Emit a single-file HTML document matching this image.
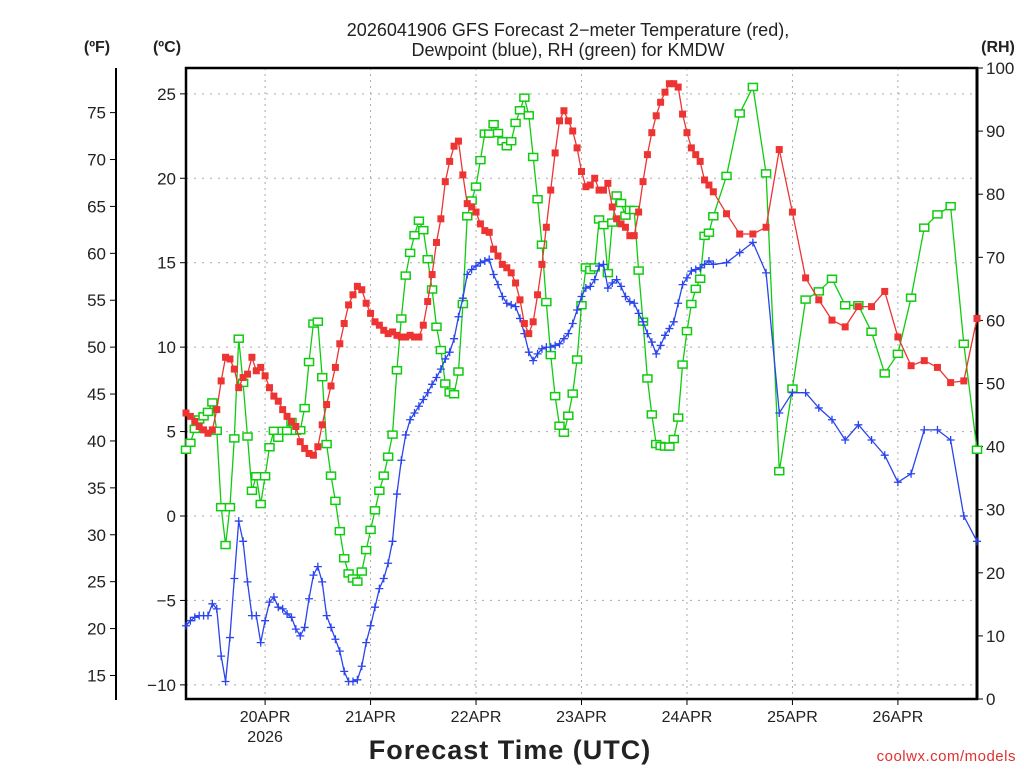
<!DOCTYPE html>
<html><head><meta charset="utf-8">
<style>
body{margin:0;background:#fff;width:1024px;height:768px;overflow:hidden}
svg text{font-family:"Liberation Sans","DejaVu Sans",sans-serif;fill:#222}
</style></head><body>
<svg id="chart" width="1024" height="768" viewBox="0 0 1024 768" xmlns="http://www.w3.org/2000/svg">
<g id="grid"></g>
<g id="axes"></g>
<g id="series"></g>
<text x="568" y="36" text-anchor="middle" font-size="18">2026041906 GFS Forecast 2−meter Temperature (red),</text>
<text x="568" y="56" text-anchor="middle" font-size="18">Dewpoint (blue), RH (green) for KMDW</text>
<text x="97" y="52" text-anchor="middle" font-size="16" font-weight="bold">(ºF)</text>
<text x="167" y="52" text-anchor="middle" font-size="16" font-weight="bold">(ºC)</text>
<text x="998" y="52" text-anchor="middle" font-size="16" font-weight="bold">(RH)</text>
<text x="510" y="759" text-anchor="middle" font-size="27" font-weight="bold" letter-spacing="1">Forecast Time (UTC)</text>
<text x="1016" y="761" text-anchor="end" font-size="15" style="fill:#e03030" letter-spacing="0.5">coolwx.com/models</text>
</svg>
<script>
const hoursHourly=[0,1,2,3,4,5,6,7,8,9,10,11,12,13,14,15,16,17,18,19,20,21,22,23,24,25,26,27,28,29,30,31,32,33,34,35,36,37,38,39,40,41,42,43,44,45,46,47,48,49,50,51,52,53,54,55,56,57,58,59,60,61,62,63,64,65,66,67,68,69,70,71,72,73,74,75,76,77,78,79,80,81,82,83,84,85,86,87,88,89,90,91,92,93,94,95,96,97,98,99,100,101,102,103,104,105,106,107,108,109,110,111,112,113,114,115,116,117,118,119];
const hours3h=[120,123,126,129,132,135,138,141,144,147,150,153,156,159,162,165,168,171,174,177,180];
const tempHourly=[6.1,5.9,5.6,5.3,5.1,4.9,5.1,6.3,8.0,9.4,9.3,8.7,7.6,8.2,8.4,9.4,8.6,8.8,8.3,7.6,7.1,6.8,6.3,5.9,5.6,5.3,4.4,4.0,3.7,3.6,4.1,5.4,6.6,7.7,8.8,10.2,11.4,12.5,13.1,13.6,13.4,12.6,12.0,11.5,11.3,11.0,10.8,10.9,10.7,10.6,10.6,10.7,10.6,10.6,11.3,12.7,14.3,16.2,17.6,19.8,
21.0,21.9,22.2,20.2,18.5,18.3,18.0,17.3,16.9,16.8,15.8,15.4,14.9,14.7,14.4,13.8,12.8,11.4,10.8,11.5,13.1,14.9,17.1,19.3,21.5,23.4,24.0,23.4,22.8,21.8,20.4,19.5,19.6,20.0,19.3,19.3,19.7,18.3,17.6,17.3,17.1,16.6,16.6,18.0,19.8,21.4,22.7,23.7,24.5,25.1,25.6,25.6,25.4,23.8,22.7,21.8,21.4,21.0,19.9,19.6];
const temp3h=[19.2,17.9,16.7,16.7,17.1,21.7,18.0,14.1,12.8,11.6,11.2,12.4,12.4,13.3,10.6,8.9,9.2,8.8,7.9,8.0,11.7];
const dewHourly=[-6.5,-6.2,-6.0,-5.9,-5.9,-5.9,-5.2,-5.5,-8.3,-9.8,-7.2,-3.7,-0.3,-1.5,-3.9,-5.9,-5.9,-7.5,-6.2,-5.1,-4.8,-5.4,-5.5,-5.8,-6.0,-6.7,-7.1,-6.6,-4.9,-3.5,-3.0,-3.9,-5.9,-6.6,-7.3,-8.0,-9.2,-9.8,-9.8,-9.7,-8.9,-7.5,-6.5,-5.4,-4.3,-3.7,-2.8,-1.5,1.3,3.3,4.8,5.7,6.1,6.5,6.9,7.3,7.8,8.2,8.7,9.3,
9.7,10.5,11.8,12.9,14.3,14.6,14.8,15.0,15.1,15.2,14.3,13.7,13.0,12.6,12.5,12.4,11.7,10.8,9.7,9.2,9.6,9.9,10.0,10.0,10.1,10.2,10.5,10.8,11.4,12.2,13.0,13.5,13.6,14.0,14.8,14.9,13.5,13.8,14.0,13.6,13.0,12.7,12.6,12.0,11.5,10.8,10.3,9.6,10.1,10.7,11.1,11.5,12.6,13.7,14.1,14.5,14.6,14.7,14.9,15.1];
const dew3h=[14.9,15.0,15.6,16.2,14.4,6.1,7.3,7.3,6.4,5.7,4.5,5.4,4.5,3.6,2.0,2.5,5.1,5.1,4.5,0.0,-1.5];
const rhHourly=[39.5,40.6,42.8,44.3,44.8,45.5,47.0,42.5,30.4,24.4,30.4,41.3,57.1,50.1,41.6,33.0,35.3,30.9,35.3,39.9,42.5,41.4,42.5,42.5,43.9,42.5,42.6,46.1,53.4,59.5,59.8,51.0,40.4,35.4,31.4,26.6,22.3,19.9,19.1,18.6,20.2,23.6,26.8,29.9,33.0,35.4,38.4,41.9,52.1,60.3,67.1,70.7,73.5,75.8,74.3,69.7,64.9,59.0,55.3,50.0,
48.6,48.3,51.9,62.6,76.5,79.0,81.2,85.4,89.6,89.6,91.1,89.7,88.4,87.6,88.4,91.3,93.3,95.3,92.5,85.9,79.2,72.0,62.9,54.5,48.0,43.3,42.2,44.9,48.4,53.8,62.4,68.4,68.0,68.4,76.0,75.1,67.5,75.5,79.8,78.6,76.6,77.5,77.5,67.9,59.8,50.8,45.1,40.4,40.1,40.0,40.0,41.2,44.6,53.0,58.3,62.6,65.0,66.6,73.4,73.9];
const rh3h=[76.5,82.9,92.8,97.0,83.3,36.1,49.2,63.3,64.6,66.6,62.4,62.4,58.2,51.6,54.7,63.6,74.7,76.8,78.1,56.3,39.5];
const cTicks=[25,20,15,10,5,0,-5,-10];
const cTickLabels=["25","20","15","10","5","0","−5","−10"];
const fTicks=[75,70,65,60,55,50,45,40,35,30,25,20,15];
const rhTicks=[100,90,80,70,60,50,40,30,20,10,0];
const dayHours=[18,42,66,90,114,138,162];
const dayLabels=["20APR","21APR","22APR","23APR","24APR","25APR","26APR"];

const hours=hoursHourly.concat(hours3h);
const tempC=tempHourly.concat(temp3h);
const dewC=dewHourly.concat(dew3h);
const rh=rhHourly.concat(rh3h);

const NS="http://www.w3.org/2000/svg";
const L=186,R=977,T=68,B=699;
const xS=h=>L+h*(R-L)/180;
const yC=c=>516-c*16.886;
const yF=f=>yC((f-32)*5/9);
const yRH=v=>B-v*(B-T)/100;
function mk(tag,attrs,parent){const e=document.createElementNS(NS,tag);for(const k in attrs)e.setAttribute(k,attrs[k]);parent.appendChild(e);return e;}
const grid=document.getElementById('grid'),axes=document.getElementById('axes'),series=document.getElementById('series');

cTicks.forEach((c,i)=>{
  const y=yC(c);
  const g=mk('line',{x1:L,x2:R,y1:y,y2:y,stroke:'#aaa','stroke-width':1,'stroke-dasharray':'2,6'},grid);
  
  
  mk('line',{x1:L-6,x2:L,y1:y,y2:y,stroke:'#000','stroke-width':1},axes);
  const t=mk('text',{x:L-10,y:y+6,'text-anchor':'end','font-size':17},axes);t.textContent=cTickLabels[i];
  
  
});
dayHours.forEach((h,i)=>{
  const x=xS(h);
  const g=mk('line',{x1:x,x2:x,y1:T,y2:B,stroke:'#aaa','stroke-width':1,'stroke-dasharray':'2,4'},grid);
  
  
  mk('line',{x1:x,x2:x,y1:B,y2:B+6,stroke:'#000','stroke-width':1},axes);
  const t=mk('text',{x:x,y:B+23,'text-anchor':'middle','font-size':16},axes);t.textContent=dayLabels[i];
  
  
});
const yr=mk('text',{x:xS(18),y:B+43,'text-anchor':'middle','font-size':16},axes);yr.textContent='2026';



mk('line',{x1:116,x2:116,y1:68,y2:700,stroke:'#000','stroke-width':2},axes);
fTicks.forEach(f=>{
  const y=yF(f);
  mk('line',{x1:110,x2:116,y1:y,y2:y,stroke:'#000','stroke-width':1},axes);
  const t=mk('text',{x:106,y:y+6,'text-anchor':'end','font-size':17},axes);t.textContent=f;
  
  
});
rhTicks.forEach(v=>{
  const y=yRH(v);
  mk('line',{x1:R,x2:R+6,y1:y,y2:y,stroke:'#000','stroke-width':1},axes);
  const t=mk('text',{x:R+9,y:y+6,'text-anchor':'start','font-size':17},axes);t.textContent=v;
  
  
});
const box=mk('rect',{x:L,y:T,width:R-L,height:B-T,fill:'none',stroke:'#000','stroke-width':2.5},axes);


mk('line',{x1:R,x2:R,y1:T,y2:B,stroke:'#000','stroke-width':3},axes);

function drawSeries(vals,yf,color,name,marker){
  const g=mk('g',{},series);
  
  
  const pts=hours.map((h,i)=>xS(h).toFixed(1)+','+yf(vals[i]).toFixed(1)).join(' ');
  mk('polyline',{points:pts,fill:'none',stroke:color,'stroke-width':1.3},g);
  hours.forEach((h,i)=>{
    const x=xS(h),y=yf(vals[i]);let m;
    if(marker==='fill')m=mk('rect',{x:x-3.5,y:y-3.5,width:7,height:7,fill:color},g);
    else if(marker==='open')m=mk('rect',{x:x-4.5,y:y-3.5,width:9,height:7,fill:'#fff',stroke:color,'stroke-width':1.5},g);
    else m=mk('path',{d:`M${x-4},${y}H${x+4}M${x},${y-4}V${y+4}`,stroke:color,'stroke-width':1.3},g);
    
    
  });
}
drawSeries(rh,yRH,'#10cc10','rh-series','open');
drawSeries(dewC,yC,'#2a44ee','dewpoint-series','plus');
drawSeries(tempC,yC,'#ee3333','temperature-series','fill');
</script>
</body></html>
